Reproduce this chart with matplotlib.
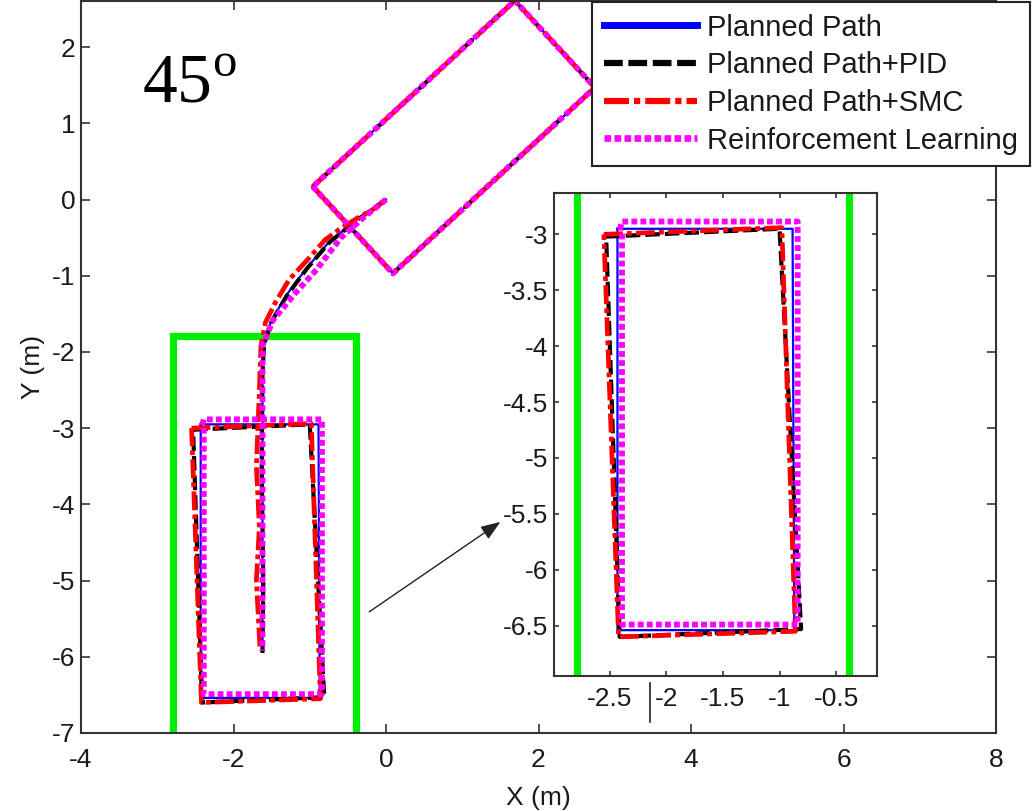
import matplotlib
matplotlib.use("Agg")
import matplotlib.pyplot as plt
from matplotlib.lines import Line2D

plt.rcParams["font.family"] = ["Liberation Sans", "DejaVu Sans"]
plt.rcParams["mathtext.fontset"] = "custom"
plt.rcParams["mathtext.rm"] = "Liberation Serif"
plt.rcParams["axes.unicode_minus"] = False

# ---- data ----
series_names = ["Planned Path", "Planned Path+PID", "Planned Path+SMC", "Reinforcement Learning"]

# reference-point trajectories
blue_path_x = [0.0, -0.39, -0.75, -1.05, -1.31, -1.51, -1.60, -1.62, -1.62]
blue_path_y = [0.0, -0.27, -0.56, -0.91, -1.26, -1.60, -1.90, -2.20, -5.92]
black_path_x = [0.0, -0.38, -0.74, -1.04, -1.30, -1.50, -1.60, -1.62, -1.63, -1.61, -1.62]
black_path_y = [0.0, -0.27, -0.56, -0.91, -1.26, -1.60, -1.90, -2.30, -3.50, -5.00, -5.95]
red_path_x = [0.0, -0.17, -0.37, -0.61, -0.80, -1.02, -1.27, -1.45, -1.58, -1.64, -1.66, -1.70, -1.66, -1.70, -1.65]
red_path_y = [0.0, -0.13, -0.24, -0.39, -0.53, -0.78, -1.05, -1.35, -1.61, -1.92, -2.50, -3.50, -4.30, -5.00, -5.92]
mag_path_x = [0.0, -0.30, -0.59, -0.92, -1.19, -1.48, -1.62, -1.62, -1.62]
mag_path_y = [0.0, -0.24, -0.50, -0.93, -1.23, -1.58, -1.92, -2.30, -5.92]

# final vehicle footprint in the parking slot
blue_park_x = [-2.43, -0.885, -0.87, -2.43, -2.43]
blue_park_y = [-2.95, -2.95, -6.54, -6.54, -2.95]
black_park_x = [-2.53, -1.00, -0.81, -2.41, -2.53]
black_park_y = [-3.02, -2.95, -6.53, -6.60, -3.02]
red_park_x = [-2.55, -0.98, -0.86, -2.42, -2.55]
red_park_y = [-3.00, -2.94, -6.55, -6.60, -3.00]
mag_park_x = [-2.41, -2.39, -0.84, -0.84, -2.39, -2.39]
mag_park_y = [-2.96, -2.885, -2.885, -6.49, -6.49, -2.96]

# initial vehicle footprint (45 deg start)
car_x = [-0.96, 0.09, 2.74, 1.69, -0.96]
car_y = [0.17, -0.97, 1.47, 2.61, 0.17]

# parking slot boundary
slot_x = [-2.79, -2.79, -0.39, -0.39]
slot_y = [-7.0, -1.79, -1.79, -7.0]

main_xticks = [-4, -2, 0, 2, 4, 6, 8]
main_yticks = [-7, -6, -5, -4, -3, -2, -1, 0, 1, 2]
inset_xticks = [-2.5, -2, -1.5, -1, -0.5]
inset_yticks = [-6.5, -6, -5.5, -5, -4.5, -4, -3.5, -3]

paths = [(blue_path_x, blue_path_y), (black_path_x, black_path_y),
         (red_path_x, red_path_y), (mag_path_x, mag_path_y)]
parks = [(blue_park_x, blue_park_y), (black_park_x, black_park_y),
         (red_park_x, red_park_y), (mag_park_x, mag_park_y)]

styles = [
    dict(color="#0000ff", lw=1.6, ls="-"),
    dict(color="#000000", lw=3.0, ls=(0, (3.5, 1.2))),
    dict(color="#ff0000", lw=3.4, ls=(0, (4, 0.9, 1, 0.9))),
    dict(color="#ff00ff", lw=4.2, ls=(0, (1, 0.55))),
]
green = "#00ee00"


def style_axes(ax, ticklen, fs, xpad, ypad):
    ax.tick_params(direction="in", length=ticklen, width=1.2, top=True, right=True,
                   labelsize=fs, labelcolor="#1a1a1a", color="#333333")
    ax.tick_params(axis="x", pad=xpad)
    ax.tick_params(axis="y", pad=ypad)
    for s in ax.spines.values():
        s.set_linewidth(1.5)
        s.set_color("#333333")


def draw_scene(ax, with_path=True):
    ax.plot(slot_x, slot_y, color=green, lw=5.2, solid_joinstyle="miter", zorder=1)
    for (px, py), (rx, ry), st in zip(paths, parks, styles):
        pieces = [(rx, ry)]
        if with_path:
            pieces += [(px, py), (car_x, car_y)]
        for xs, ys in pieces:
            ax.plot(xs, ys, color=st["color"], lw=st["lw"], linestyle=st["ls"],
                    dash_capstyle="butt", zorder=2)


fig = plt.figure(figsize=(10.33, 8.11), dpi=100)

ax = fig.add_axes([81 / 1033, 1 - 733 / 811, 915 / 1033, 732 / 811])
draw_scene(ax)
ax.set_xlim(-4, 8)
ax.set_ylim(-7, 2.605)
ax.set_xticks(main_xticks)
ax.set_yticks(main_yticks)
style_axes(ax, 6.5, 19, 11, 4)
ax.set_xlabel("X (m)", fontsize=19, color="#1a1a1a", labelpad=10)
ax.set_ylabel("Y (m)", fontsize=19, color="#1a1a1a", labelpad=5)

ax.text(-3.2, 1.27, r"45$^{\mathrm{o}}$", family="Liberation Serif", fontsize=50,
        ha="left", va="baseline")

ax.annotate("", xy=(1.50, -4.23), xytext=(-0.22, -5.41),
            arrowprops=dict(arrowstyle="-|>,head_length=1.2,head_width=0.45",
                            color="#222222", lw=1.0, shrinkA=0, shrinkB=0))

# zoomed inset of the parking slot
axin = fig.add_axes([554 / 1033, 1 - 676 / 811, 323 / 1033, 483 / 811])
draw_scene(axin, with_path=False)
axin.set_xlim(-2.99, -0.14)
axin.set_ylim(-6.95, -2.63)
axin.set_xticks(inset_xticks)
axin.set_yticks(inset_yticks)
axin.set_xticklabels(["-2.5", "-2", "-1.5", "-1", "-0.5"])
axin.set_yticklabels(["-6.5", "-6", "-5.5", "-5", "-4.5", "-4", "-3.5", "-3"])
style_axes(axin, 3.5, 19, 8, 4)
axin.set_facecolor("white")

# stray vertical stroke beside the inset's "-2" label
fig.add_artist(Line2D([650 / 1033, 650 / 1033], [1 - 683 / 811, 1 - 722 / 811],
                      color="#222222", lw=1.2))

handles = [
    Line2D([], [], color="#0000ff", lw=5.0, ls="-"),
    Line2D([], [], color="#000000", lw=4.5, ls=(0, (3, 0.9)), dash_capstyle="butt"),
    Line2D([], [], color="#ff0000", lw=4.5, ls=(0, (4, 0.8, 1, 0.8)), dash_capstyle="butt"),
    Line2D([], [], color="#ff00ff", lw=4.8, ls=(0, (1, 0.5)), dash_capstyle="butt"),
]
leg = fig.legend(handles, series_names, loc="upper right",
                 bbox_to_anchor=(1030 / 1033, 1 - 2 / 811), bbox_transform=fig.transFigure,
                 fontsize=21, frameon=True, fancybox=False, shadow=False,
                 handlelength=3.2, handletextpad=0.35, labelspacing=0.33,
                 borderpad=0.4, borderaxespad=0.0)
leg.get_frame().set_edgecolor("#222222")
leg.get_frame().set_linewidth(1.5)
leg.get_frame().set_alpha(1.0)
for t in leg.get_texts():
    t.set_color("#1a1a1a")

fig.savefig("out.png", dpi=100)
